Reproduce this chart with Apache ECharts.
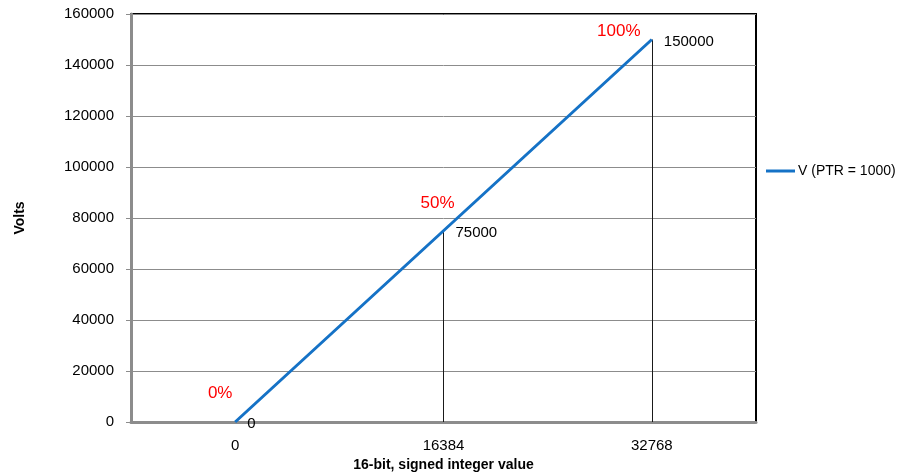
<!DOCTYPE html>
<html>
<head>
<meta charset="utf-8">
<script src="https://cdn.jsdelivr.net/npm/echarts@6/dist/echarts.min.js"></script>
<style>html,body{margin:0;padding:0;background:#fff;}#c{width:899px;height:472px;}</style>
</head>
<body>
<div id="c"></div>
<script>
var categories = ['0', '16384', '32768'];
var voltValues = [0, 75000, 150000];
var percentLabels = ['0%', '50%', '100%'];
var seriesName = 'V (PTR = 1000)';
var yTicks = [0, 20000, 40000, 60000, 80000, 100000, 120000, 140000, 160000];

var FONT = '"Liberation Sans", Arial, sans-serif';
var pctOffsets = [[-15, -29], [-6, -27], [-33, -8]];

var chart = echarts.init(document.getElementById('c'));
var option = {
  animation: false,
  backgroundColor: '#fff',
  textStyle: { fontFamily: FONT },
  grid: { left: 131, top: 14, right: 143, bottom: 50, show: true, borderColor: '#000', borderWidth: 2,
    containLabel: false, outerBoundsMode: 'none' },
  legend: {
    data: [seriesName], left: 761, top: 159, orient: 'vertical',
    icon: 'rect', itemWidth: 29, itemHeight: 3, itemGap: 4,
    textStyle: { fontFamily: FONT, fontSize: 14, color: '#000', padding: [0, 0, 0, -2] }
  },
  xAxis: {
    type: 'category', data: categories, boundaryGap: true,
    name: '16-bit, signed integer value', nameLocation: 'middle', nameGap: 33,
    nameTextStyle: { fontFamily: FONT, fontSize: 14, fontWeight: 'bold', color: '#000' },
    axisLine: { show: true, lineStyle: { color: '#8c8c8c', width: 3 } },
    axisTick: { show: false },
    axisLabel: { fontFamily: FONT, fontSize: 15, color: '#000', margin: 16 },
    splitLine: { show: false }
  },
  yAxis: {
    type: 'value', min: yTicks[0], max: yTicks[yTicks.length - 1], interval: yTicks[1] - yTicks[0],
    name: 'Volts', nameLocation: 'middle', nameGap: 104, nameRotate: 90,
    nameTextStyle: { fontFamily: FONT, fontSize: 14, fontWeight: 'bold', color: '#000' },
    axisLine: { show: true, lineStyle: { color: '#8c8c8c', width: 3 } },
    axisTick: { show: true, length: 5, lineStyle: { color: '#8c8c8c', width: 1 } },
    axisLabel: { fontFamily: FONT, fontSize: 15, color: '#000', margin: 17,
      formatter: function (v) { return String(v); } },
    splitLine: { show: true, lineStyle: { color: '#8c8c8c', width: 1 } }
  },
  series: [{
    name: seriesName, type: 'line', data: voltValues,
    symbol: 'none', showSymbol: false,
    lineStyle: { color: '#1572c6', width: 3 },
    itemStyle: { color: '#1572c6' },
    z: 5,
    label: { show: false },
    markLine: {
      silent: true, symbol: 'none', animation: false,
      lineStyle: { color: '#1a1a1a', width: 1, type: 'solid' },
      label: { show: false },
      data: voltValues.map(function (v, i) {
        return [{ coord: [i, v] }, { coord: [i, yTicks[0]] }];
      }).filter(function (d, i) { return voltValues[i] > 0; })
    },
    markPoint: {
      silent: true, symbol: 'circle', symbolSize: 0, animation: false,
      data: voltValues.map(function (v, i) {
        return {
          coord: [i, v], value: v,
          label: { show: true, position: 'inside', formatter: percentLabels[i], offset: pctOffsets[i],
            color: '#ff0000', fontFamily: FONT, fontSize: 17 }
        };
      }).concat(voltValues.map(function (v, i) {
        return {
          coord: [i, v], value: v,
          label: { show: true, position: 'right', distance: 12, offset: [0, 2], formatter: String(v),
            color: '#000', fontFamily: FONT, fontSize: 15 }
        };
      }))
    }
  }]
};
chart.setOption(option);
</script>
</body>
</html>
